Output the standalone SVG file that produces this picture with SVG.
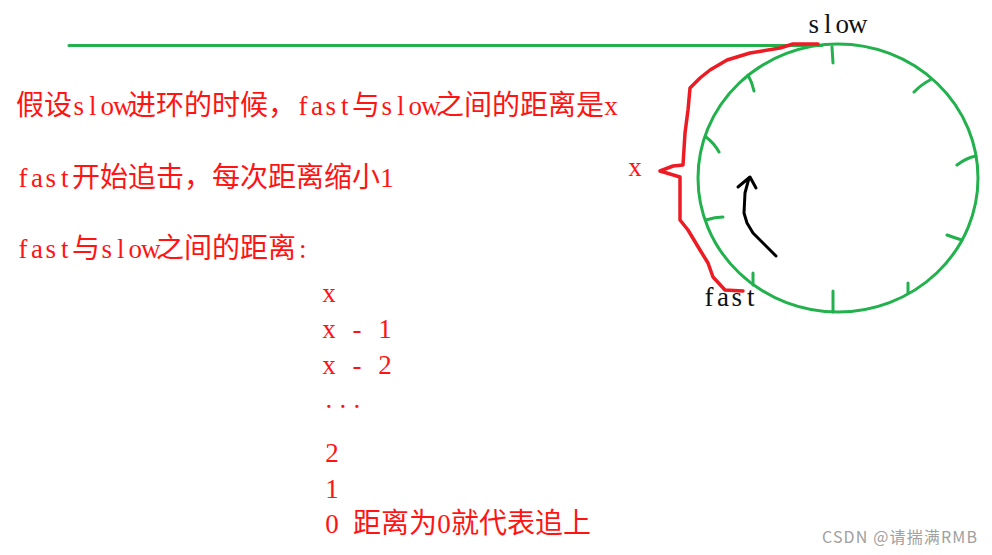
<svg xmlns="http://www.w3.org/2000/svg" width="992" height="555" viewBox="0 0 992 555">
<style>
.t{font-family:"Noto Sans CJK SC","Liberation Sans",sans-serif;font-size:28px;fill:#ff1414}
.m{font-family:"Liberation Serif","Noto Sans CJK SC",serif;font-size:27px}
.k{fill:#111}
.g{fill:none;stroke:#22b14c;stroke-width:3;stroke-linecap:round}
.r{fill:none;stroke:#ed1c24;stroke-width:3.5;stroke-linejoin:round;stroke-linecap:round}
.b{fill:none;stroke:#000;stroke-width:3;stroke-linejoin:round;stroke-linecap:round}
.w{font-family:"Noto Sans CJK SC","Liberation Sans",sans-serif;font-size:16px;fill:#a0a0a0}
</style>
<rect width="992" height="555" fill="#fff"/>
<g id="track">
<line class="g" x1="69" y1="45.5" x2="822" y2="45.5"/>
<ellipse class="g" cx="838" cy="178" rx="140" ry="134"/>
</g>
<g id="ticks">
<path class="g" d="M832,47 L833,63 M748,75 Q752,82 754,91 M930,80 Q922,84 914,92 M706,137 Q714,143 719,152 M976,156 Q966,158 957,165 M706,220 Q715,217 723,217 M947,235 Q955,238 962,240 M753,273 L753,285 M833,291 L833,312 M908,283 L908,293"/>
</g>
<g id="connectors">
<path class="r" d="M818,44 L793,44 L780,48 L750,53 L727,60 L710,70 L700,78 L690,88 L688,110 L685,133 L683,165 L673,166 L660,171 L680,177 L680,220 L688,230 L700,250 L708,263 L713,277 L725,290 L743,291"/>
<path class="b" d="M776,256 L767,247 L753,233 L747,223 L744,213 L745,193 L749,178"/>
<path class="b" d="M738,187 L750,177 L756,188"/>
</g>
<g id="label-slow"><text class="t k" y="33"><tspan class="m" x="808.5 824 835.5 848">slow</tspan></text></g>
<g id="label-fast"><text class="t k" y="306"><tspan class="m" x="704.5 717 731.5 747">fast</tspan></text></g>
<g id="label-x"><text class="t" y="176"><tspan class="m" x="628.3">x</tspan></text></g>
<g id="line1"><text class="t" y="115"><tspan x="16">假设</tspan><tspan class="m" x="73.5 89 100.5 113">slow</tspan><tspan x="128">进环的时候，</tspan><tspan class="m" x="298.5 311 325.5 341">fast</tspan><tspan x="352">与</tspan><tspan class="m" x="381.5 397 408.5 421">slow</tspan><tspan x="436">之间的距离是</tspan><tspan class="m" x="604.3">x</tspan></text></g>
<g id="line2"><text class="t" y="187"><tspan class="m" x="18.5 31 45.5 61">fast</tspan><tspan x="72">开始追击，每次距离缩小</tspan><tspan class="m" x="380.3">1</tspan></text></g>
<g id="line3"><text class="t" y="258"><tspan class="m" x="18.5 31 45.5 61">fast</tspan><tspan x="72">与</tspan><tspan class="m" x="101.5 117 128.5 141">slow</tspan><tspan x="156">之间的距离</tspan><tspan class="m" x="299">:</tspan></text></g>
<g id="list">
<text class="t" y="302"><tspan class="m" x="322.3">x</tspan></text>
<text class="t" y="338"><tspan class="m" x="322.3 336 352.5 364 378.3">x - 1</tspan></text>
<text class="t" y="374"><tspan class="m" x="322.3 336 352.5 364 378.3">x - 2</tspan></text>
<text class="t" y="408"><tspan class="m" x="325.5 339.5 353.5">...</tspan></text>
<text class="t" y="462"><tspan class="m" x="325.3">2</tspan></text>
<text class="t" y="498"><tspan class="m" x="325.3">1</tspan></text>
<text class="t" y="533"><tspan class="m" x="325.3">0</tspan><tspan x="353">距离为</tspan><tspan class="m" x="437.3">0</tspan><tspan x="451">就代表追上</tspan></text>
</g>
<g id="watermark"><text class="w" x="822" y="543" textLength="155">CSDN @请揣满RMB</text></g>
</svg>
